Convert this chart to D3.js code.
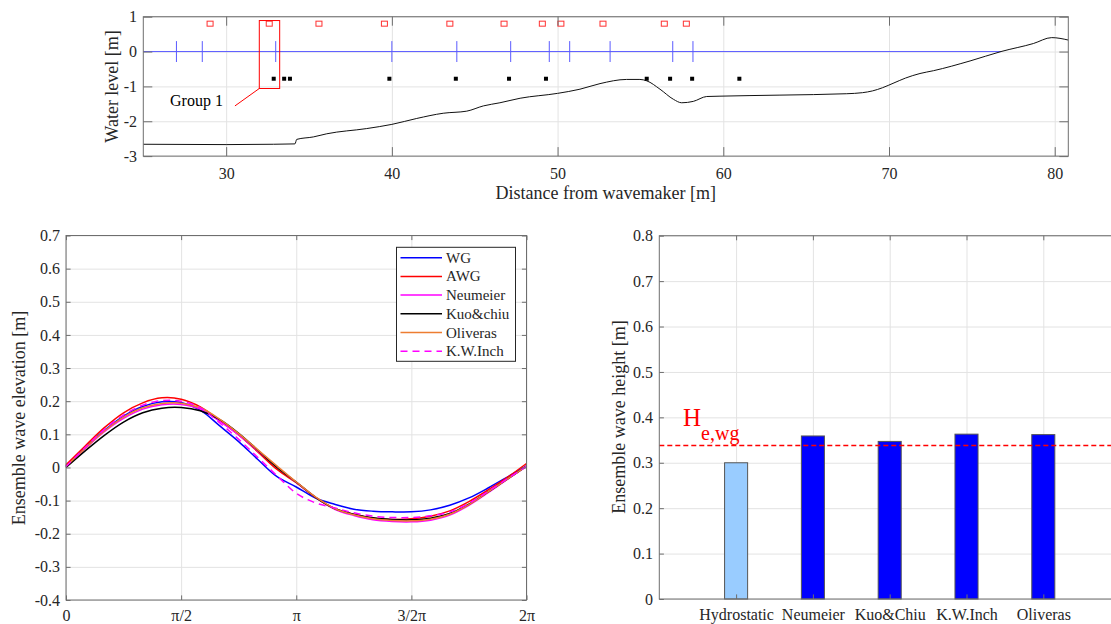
<!DOCTYPE html>
<html><head><meta charset="utf-8">
<script src="https://cdn.jsdelivr.net/npm/d3@7"></script>
<style>
body{margin:0;background:#fff;}
svg{display:block;font-family:"Liberation Serif","Times New Roman",serif;}
</style></head><body>
<svg id="c" width="1111" height="624"></svg>
<script>
// ---------------- data ----------------
// top panel: flume profile
const topXTicks = [30, 40, 50, 60, 70, 80];
const topYTicks = [-3, -2, -1, 0, 1];
const bedX = [25, 30, 32.85, 34.15, 34.26, 35.26, 36.07, 38.48, 40, 41.5, 43.1, 44.52, 45.52, 46.52, 47.74, 50.0, 51.35, 52.56, 54.17, 54.97, 55.38, 56.18, 56.99, 57.49, 58.19, 59.0, 59.8, 63.42, 67.45, 68.4, 69.0, 69.6, 70.3, 71.0, 71.87, 72.68, 74.89, 76.76, 78.71, 79.82, 80.82];
const bedY = [-2.66, -2.67, -2.66, -2.65, -2.52, -2.45, -2.36, -2.21, -2.09, -1.92, -1.77, -1.71, -1.56, -1.47, -1.34, -1.20, -1.08, -0.92, -0.80, -0.80, -0.84, -1.08, -1.37, -1.47, -1.43, -1.29, -1.28, -1.25, -1.21, -1.18, -1.13, -1.04, -0.90, -0.76, -0.63, -0.55, -0.27, 0.0, 0.23, 0.40, 0.33];
const swlX = [25, 76.76];
const swlY = [0, 0];
const gaugeX = [27.0, 28.56, 32.99, 40.0, 43.92, 47.17, 49.5, 50.73, 53.17, 56.95, 58.17];
const awgX = [29.03, 32.6, 35.6, 39.55, 43.5, 46.77, 49.08, 50.2, 52.74, 56.44, 57.77];
const awgLevel = 0.8;
const pressureX = [32.87, 33.5, 33.85, 39.85, 43.86, 47.07, 49.3, 55.38, 56.79, 58.12, 60.97];
const pressureLevel = -0.78;
const groupBoxX = [32.0, 33.23];
const groupBoxY = [-1.06, 0.89];
const groupLineX = [32.0, 30.53];
const groupLineY = [-1.06, -1.56];
const groupLabel = "Group 1";

// bottom-left: ensemble wave elevation
const phaseDeg = [0, 15, 30, 45, 60, 75, 90, 105, 120, 135, 150, 165, 180, 195, 210, 225, 240, 255, 270, 285, 300, 315, 330, 345, 360];
const phaseTicks = [0, 90, 180, 270, 360];
const phaseTickLabels = ["0", "\u03c0/2", "\u03c0", "3/2\u03c0", "2\u03c0"];
const elevTicks = [-0.4, -0.3, -0.2, -0.1, 0, 0.1, 0.2, 0.3, 0.4, 0.5, 0.6, 0.7];
const wgY       = [0.004, 0.060, 0.112, 0.155, 0.184, 0.198, 0.196, 0.173, 0.126, 0.078, 0.024, -0.028, -0.059, -0.092, -0.111, -0.126, -0.132, -0.134, -0.134, -0.128, -0.114, -0.092, -0.062, -0.029, 0.005];
const awgY      = [0.008, 0.065, 0.120, 0.165, 0.195, 0.210, 0.206, 0.183, 0.143, 0.098, 0.047, -0.006, -0.046, -0.090, -0.124, -0.141, -0.153, -0.157, -0.155, -0.147, -0.131, -0.103, -0.068, -0.030, 0.012];
const neumeierY = [0.002, 0.057, 0.108, 0.148, 0.176, 0.189, 0.190, 0.176, 0.140, 0.098, 0.050, 0.002, -0.045, -0.090, -0.126, -0.145, -0.158, -0.163, -0.164, -0.159, -0.144, -0.114, -0.076, -0.036, 0.003];
const kuoY      = [0.000, 0.050, 0.097, 0.137, 0.165, 0.179, 0.181, 0.171, 0.145, 0.103, 0.052, 0.000, -0.044, -0.090, -0.124, -0.141, -0.152, -0.157, -0.158, -0.153, -0.139, -0.111, -0.074, -0.035, 0.004];
const oliverasY = [0.003, 0.058, 0.110, 0.152, 0.180, 0.193, 0.194, 0.180, 0.146, 0.102, 0.053, 0.004, -0.044, -0.089, -0.124, -0.143, -0.155, -0.160, -0.161, -0.156, -0.141, -0.112, -0.074, -0.035, 0.004];
const kwInchY   = [0.003, 0.060, 0.115, 0.158, 0.188, 0.202, 0.200, 0.180, 0.135, 0.085, 0.030, -0.025, -0.078, -0.107, -0.122, -0.137, -0.147, -0.151, -0.151, -0.146, -0.134, -0.108, -0.072, -0.034, 0.003];
const seriesNames = ["WG", "AWG", "Neumeier", "Kuo&chiu", "Oliveras", "K.W.Inch"];

// bottom-right: ensemble wave height
const barCategories = ["Hydrostatic", "Neumeier", "Kuo&Chiu", "K.W.Inch", "Oliveras"];
const barValues = [0.300, 0.359, 0.347, 0.363, 0.362];
const heightTicks = [0, 0.1, 0.2, 0.3, 0.4, 0.5, 0.6, 0.7, 0.8];
const hWG = 0.338;

// ---------------- drawing ----------------
const svg = d3.select("#c");
const TXT = "#262626", BOX = "#6e6e6e", GRID = "#e3e3e3", FONT = 16;
const SERIF = '"Liberation Serif","Times New Roman",serif';

function frame(x, y, o) {
  const [x0, x1] = x.range(), [y0, y1] = y.range();
  const w = x1 - x0, h = y0 - y1;
  const g = svg.append("g");
  g.append("g").attr("transform", `translate(0,${y0})`)
    .call(d3.axisBottom(x).tickValues(o.xTicks).tickSize(-h).tickFormat(""))
    .call(s => { s.select(".domain").remove(); s.selectAll("line").attr("stroke", GRID); });
  g.append("g").attr("transform", `translate(${x0},0)`)
    .call(d3.axisLeft(y).tickValues(o.yTicks).tickSize(-w).tickFormat(""))
    .call(s => { s.select(".domain").remove(); s.selectAll("line").attr("stroke", GRID); });
  return g;
}
function frameAxes(x, y, o) {
  const [x0, x1] = x.range(), [y0, y1] = y.range(), tl = o.tickLen;
  const g = svg.append("g");
  const style = s => {
    s.select(".domain").remove();
    s.selectAll("line").attr("stroke", BOX);
    s.attr("font-family", SERIF).attr("font-size", FONT);
    s.selectAll("text").attr("fill", TXT).style("font-size", FONT + "px").style("font-family", SERIF);
  };
  g.append("g").attr("transform", `translate(0,${y0})`)
    .call(d3.axisBottom(x).tickValues(o.xTicks).tickSizeInner(-tl).tickSizeOuter(0).tickPadding(o.xPad).tickFormat(o.xFmt))
    .call(style);
  g.append("g").attr("transform", `translate(0,${y1})`)
    .call(d3.axisTop(x).tickValues(o.xTicks).tickSizeInner(-tl).tickSizeOuter(0).tickFormat(""))
    .call(style);
  g.append("g").attr("transform", `translate(${x0},0)`)
    .call(d3.axisLeft(y).tickValues(o.yTicks).tickSizeInner(-tl).tickSizeOuter(0).tickPadding(o.yPad).tickFormat(o.yFmt))
    .call(style);
  g.append("g").attr("transform", `translate(${x1},0)`)
    .call(d3.axisRight(y).tickValues(o.yTicks).tickSizeInner(-tl).tickSizeOuter(0).tickFormat(""))
    .call(style);
  g.append("rect").attr("x", x0).attr("y", y1).attr("width", x1 - x0).attr("height", y0 - y1)
    .attr("fill", "none").attr("stroke", BOX).attr("stroke-width", 1);
  return g;
}
function yTitle(text, cx, cy) {
  svg.append("text").attr("transform", `translate(${cx},${cy}) rotate(-90)`)
    .attr("text-anchor", "middle").attr("fill", TXT).style("font-size", "18px").style("font-family", SERIF).text(text);
}

// ===== Top panel =====
const xT = d3.scaleLinear().domain([25, 80.82]).range([143.3, 1068.3]);
const yT = d3.scaleLinear().domain([-3, 1]).range([156.1, 16.7]);
frame(xT, yT, { xTicks: topXTicks, yTicks: topYTicks });
const gTop = svg.append("g");
gTop.append("path").datum(d3.range(swlX.length))
  .attr("d", d3.line().x(i => xT(swlX[i])).y(i => yT(swlY[i])))
  .attr("fill", "none").attr("stroke", "#5b5bff").attr("stroke-width", 1);
gTop.selectAll(".gauge").data(gaugeX).join("line")
  .attr("x1", d => xT(d)).attr("x2", d => xT(d)).attr("y1", yT(0.3)).attr("y2", yT(-0.3))
  .attr("stroke", "#5b5bff").attr("stroke-width", 1);
gTop.append("path").datum(d3.range(bedX.length))
  .attr("d", d3.line().x(i => xT(bedX[i])).y(i => yT(bedY[i])).curve(d3.curveMonotoneX))
  .attr("fill", "none").attr("stroke", "#111").attr("stroke-width", 1);
gTop.selectAll(".awg").data(awgX).join("rect")
  .attr("x", d => xT(d) - 3).attr("y", yT(awgLevel) - 2.5).attr("width", 6).attr("height", 5)
  .attr("fill", "none").attr("stroke", "#ff3030").attr("stroke-width", 1);
gTop.selectAll(".pr").data(pressureX).join("rect")
  .attr("x", d => xT(d) - 2).attr("y", yT(pressureLevel) - 2).attr("width", 4).attr("height", 4)
  .attr("fill", "#000");
gTop.append("rect").attr("x", xT(groupBoxX[0])).attr("y", yT(groupBoxY[1]))
  .attr("width", xT(groupBoxX[1]) - xT(groupBoxX[0])).attr("height", yT(groupBoxY[0]) - yT(groupBoxY[1]))
  .attr("fill", "none").attr("stroke", "#ff0000").attr("stroke-width", 1);
gTop.append("line").attr("x1", xT(groupLineX[0])).attr("y1", yT(groupLineY[0]))
  .attr("x2", xT(groupLineX[1])).attr("y2", yT(groupLineY[1])).attr("stroke", "#ff0000").attr("stroke-width", 1);
gTop.append("text").attr("x", 170).attr("y", 106).attr("fill", "#000").style("font-size", "16px").style("font-family", SERIF).text(groupLabel);
frameAxes(xT, yT, { xTicks: topXTicks, yTicks: topYTicks, tickLen: 9, xPad: 11.5, yPad: 6.3,
  xFmt: d => String(d), yFmt: d => String(d) });
svg.append("text").attr("x", 605.8).attr("y", 199).attr("text-anchor", "middle").attr("fill", TXT)
  .style("font-size", "18px").style("font-family", SERIF).text("Distance from wavemaker [m]");
yTitle("Water level [m]", 118, 86.4);

// ===== Bottom-left panel =====
const xL = d3.scaleLinear().domain([0, 360]).range([66, 526.5]);
const yL = d3.scaleLinear().domain([-0.4, 0.7]).range([600, 235.5]);
frame(xL, yL, { xTicks: phaseTicks, yTicks: elevTicks });
const series = [
  { name: seriesNames[0], vals: wgY, color: "#0000ff", dash: null },
  { name: seriesNames[1], vals: awgY, color: "#ff0000", dash: null },
  { name: seriesNames[2], vals: neumeierY, color: "#ff00ff", dash: null },
  { name: seriesNames[3], vals: kuoY, color: "#000000", dash: null },
  { name: seriesNames[4], vals: oliverasY, color: "#ed7d31", dash: null },
  { name: seriesNames[5], vals: kwInchY, color: "#ff00ff", dash: "7,5" }
];
const lineL = d3.line().x((d, i) => xL(phaseDeg[i])).y(d => yL(d)).curve(d3.curveCatmullRom.alpha(0.5));
const gl = svg.append("g");
series.forEach(s => {
  gl.append("path").datum(s.vals).attr("d", lineL).attr("fill", "none")
    .attr("stroke", s.color).attr("stroke-width", 1.5).attr("stroke-dasharray", s.dash);
});
frameAxes(xL, yL, { xTicks: phaseTicks, yTicks: elevTicks, tickLen: 4.6, xPad: 9.6, yPad: 6,
  xFmt: (d, i) => phaseTickLabels[i], yFmt: d => String(d) });
yTitle("Ensemble wave elevation [m]", 25, 418);
// legend
const lg = svg.append("g");
lg.append("rect").attr("x", 396.5).attr("y", 247.3).attr("width", 119).attr("height", 114)
  .attr("fill", "#fff").attr("stroke", "#262626").attr("stroke-width", 1);
series.forEach((s, i) => {
  const cy = 257.7 + i * 18.7;
  lg.append("line").attr("x1", 400.5).attr("x2", 442).attr("y1", cy).attr("y2", cy)
    .attr("stroke", s.color).attr("stroke-width", 1.5).attr("stroke-dasharray", s.dash);
  lg.append("text").attr("x", 446).attr("y", cy + 5).attr("fill", TXT)
    .style("font-size", "15px").style("font-family", SERIF).text(s.name);
});

// ===== Bottom-right panel =====
const xR = d3.scaleLinear().domain([0, 6]).range([659.3, 1120.1]);
const yR = d3.scaleLinear().domain([0, 0.8]).range([599, 235.7]);
const barPos = barCategories.map((c, i) => i + 1);
frame(xR, yR, { xTicks: barPos, yTicks: heightTicks });
const gb = svg.append("g");
gb.selectAll("rect").data(barValues).join("rect")
  .attr("x", (d, i) => xR(barPos[i] - 0.15)).attr("width", xR(0.3) - xR(0))
  .attr("y", d => yR(d)).attr("height", d => yR(0) - yR(d))
  .attr("fill", (d, i) => i === 0 ? "#99ccff" : "#0000ff")
  .attr("stroke", "#555").attr("stroke-width", 1);
gb.append("line").attr("x1", xR(0)).attr("x2", xR(6)).attr("y1", yR(hWG)).attr("y2", yR(hWG))
  .style("stroke", "#ff0000").style("stroke-width", "1.3px").style("stroke-dasharray", "5,3");
frameAxes(xR, yR, { xTicks: barPos, yTicks: heightTicks, tickLen: 4.6, xPad: 9.6, yPad: 6.3,
  xFmt: (d, i) => barCategories[i], yFmt: d => String(d) });
const ht = svg.append("text").attr("x", 683).attr("y", 425.7).attr("fill", "#ff0000").style("font-family", SERIF);
ht.append("tspan").style("font-size", "25px").text("H");
ht.append("tspan").attr("dy", 14.3).style("font-size", "20px").text("e,wg");
yTitle("Ensemble wave height [m]", 625, 417);
</script>
</body></html>
